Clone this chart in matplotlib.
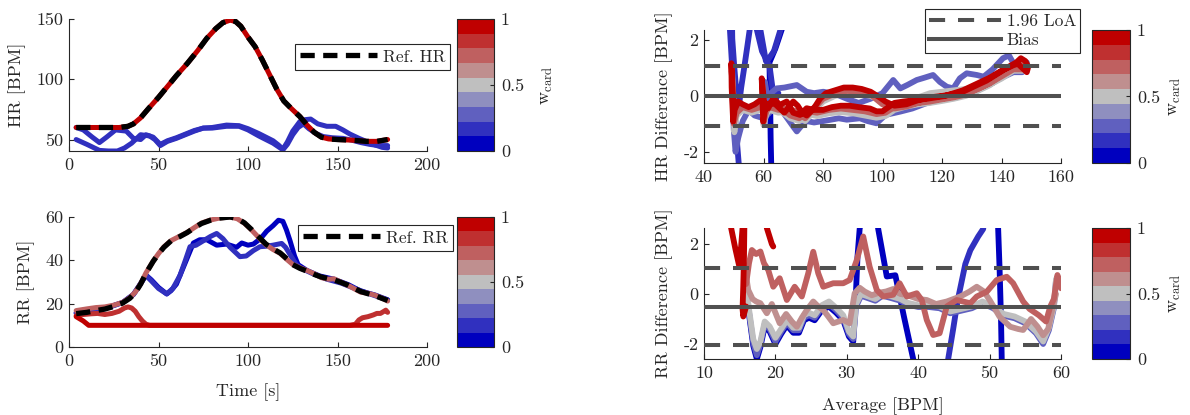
import matplotlib
matplotlib.use("Agg")
import matplotlib.pyplot as plt
from matplotlib.colors import ListedColormap, Normalize
from matplotlib.cm import ScalarMappable
from matplotlib.lines import Line2D

plt.rcParams.update({
    "font.family": "serif",
    "font.serif": ["cmr10"],
    "mathtext.fontset": "cm",
    "axes.formatter.use_mathtext": True,
    "axes.unicode_minus": False,
})

FIG_W, FIG_H = 1190, 415
INK = "#262626"
GUIDE = "#505050"
FS = 13

# discrete colour scale for the cardiac weight w_card
WCARD_COLORS = ["#0000BF", "#3030BF", "#6060BF", "#8F8FBF", "#BFBFBF",
                "#BF8F8F", "#BF6060", "#BF3030", "#BF0000"]
WCARD_TICKS = [0, 0.5, 1]
WCARD_TICK_LABELS = ["0", "0.5", "1"]

# ---------------- heart rate over time ----------------
hr_time_ref = [4, 10, 20, 28, 33, 36, 40, 44, 50, 55, 60, 66, 72, 77, 82, 86, 90, 93,
               96, 100, 104, 108, 112, 116, 120, 124, 129, 133, 137, 141, 145, 150,
               158, 166, 172, 178]
hr_ref = [60, 60, 60, 60, 61, 63, 68, 75, 85, 94, 103, 113, 124, 134, 142, 147, 149, 148,
          144, 135, 127, 116, 104, 92, 82, 76, 69, 62, 56, 52, 50.5, 50,
          49.5, 48.5, 48.5, 50]

hr_time_w100 = [4, 10, 20, 28, 33, 36, 40, 44, 50, 55, 60, 66, 72, 77, 82, 86, 90, 93,
                96, 100, 104, 108, 112, 116, 120, 124, 129, 133, 137, 141, 145, 150,
                158, 166, 172, 178]
hr_est_w100 = [60, 60, 60, 60, 61, 63, 68, 75, 85, 94, 103, 113, 124, 134, 142, 147, 149, 148,
               144, 135, 127, 116, 104, 92, 82, 76, 69, 62, 56, 52, 50.5, 50,
               49.5, 48.5, 48.5, 50]

hr_time_w12 = [4, 10, 17, 22, 27, 31, 35, 40, 45, 48, 51, 55, 60, 65, 70, 75, 80, 88, 95, 100,
               106, 110, 114, 117, 119.5, 122, 125, 129, 132, 135, 139, 144, 149, 153, 157,
               162, 166, 171, 175, 178]
hr_est_w12 = [50, 46, 41, 40.5, 40.5, 43, 47, 54, 53, 50, 45, 48.5, 51, 54, 57, 59.5, 60, 62,
              61.5, 59, 55, 52, 49, 45.5, 42, 48, 57, 65, 66.5, 67, 63, 61, 61, 58, 54.5,
              51, 48.5, 45.5, 43.5, 43]

hr_time_w18 = [4, 8, 13, 17, 21, 26, 32, 36, 40, 43, 47, 51, 55, 60, 65, 70, 75, 80, 88, 95,
               100, 106, 110, 114, 117, 119.5, 122, 125, 128, 131, 134, 138, 142, 147, 153,
               158, 163, 168, 173, 178]
hr_est_w18 = [60, 58, 52, 47.5, 52, 58, 57, 51, 50, 54, 52, 46, 49, 51.5, 54.5, 57.5, 59.5,
              59.5, 61, 61, 58, 53, 50, 47, 44, 41.5, 46, 54, 60, 63, 59, 55, 52.5, 51.5,
              51, 49.5, 47.5, 46, 45, 45]

# ---------------- respiration rate over time ----------------
rr_time_ref = [4, 10, 15, 20, 25, 30, 34, 37, 40, 43, 47, 50, 53, 57, 62, 66, 70, 74, 79, 84,
               90, 94, 98, 102, 106, 110, 114, 118, 122, 125, 129, 133, 137, 141, 145, 148,
               152, 156, 160, 163, 167, 171, 175, 178]
rr_ref = [15.4, 16, 16.8, 17.5, 18.7, 20.3, 22.5, 25, 29, 34, 39.5, 43, 46, 49, 51, 52.8,
          55, 57, 58.5, 59.5, 60, 59.3, 57.3, 54.2, 50.8, 47.5, 45.3, 43.4, 40.5, 38,
          36.3, 35, 33.5, 32.3, 31.5, 31, 29.8, 28.5, 26.8, 25.6, 24.6, 23.7, 22.4, 21.5]

rr_time_w05 = [4, 10, 20, 30, 36, 40, 43, 46, 50, 54.6, 57, 60, 63, 66, 69.5, 73, 77, 82.5,
               88, 93.6, 96.5, 100, 103, 107, 110.5, 114, 117, 119.5, 121.5, 123.5, 126,
               128, 133, 140, 148, 156, 163, 171, 178]
rr_est_w05 = [15.8, 16.4, 17.8, 20.6, 24.3, 29.3, 33.2, 31, 27.5, 24.5, 26, 29, 35, 41, 48,
              49.5, 49.5, 47, 47.5, 46, 48, 47, 47.5, 50, 53.5, 56, 58.5, 58, 54, 49, 42,
              38, 35.3, 32.8, 31.3, 28.8, 25.8, 24.0, 21.8]

rr_time_w15 = [4, 10, 20, 30, 36, 40, 43, 46, 50, 54.6, 58, 62, 65, 67.6, 71, 75, 79, 82.5,
               86, 90, 95.5, 99, 103, 106.7, 110, 114, 118.8, 121, 124, 127, 130, 136, 144,
               152, 160, 168, 178]
rr_est_w15 = [15.6, 16.2, 17.7, 20.5, 24.2, 29.2, 33, 30.5, 27, 24.5, 27, 33, 40, 46.3, 47,
              49, 51, 52.4, 50, 46, 41.7, 42, 44.5, 46.3, 46.5, 47, 47.8, 46, 42, 38, 36.2,
              33.9, 31.3, 29.5, 26.9, 24.5, 21.7]

rr_time_w70 = [4, 10, 15, 20, 25, 30, 34, 37, 40, 43, 47, 50, 53, 57, 62, 66, 70, 74, 79, 84,
               90, 94, 98, 102, 106, 110, 114, 118, 122, 125, 129, 133, 137, 141, 145, 148,
               152, 156, 160, 163, 167, 171, 175, 178]
rr_est_w70 = [16.8, 17.6, 18.2, 18.5, 19.3, 20.6, 22.8, 25.3, 29.2, 34.2, 39.6, 43.1, 46.2,
              49.1, 51.2, 52.9, 55.1, 57.2, 58.6, 59.5, 60.0, 59.2, 57.1, 54.0, 50.5, 47.2,
              45.0, 43.2, 40.2, 38.1, 36.6, 35.3, 33.8, 32.0, 31.3, 31.5, 29.9, 28.4, 26.6,
              25.3, 24.8, 23.9, 22.5, 21.2]

rr_time_w85 = [4, 8, 12, 16, 20, 24, 28, 31, 33, 35, 37, 39, 41, 43, 45, 100, 157, 160, 162,
               164, 167, 170, 172, 174, 176, 177, 178]
rr_est_w85 = [14.5, 15.0, 15.3, 15.5, 15.0, 15.5, 16.5, 18.0, 18.5, 18.0, 16.5, 14.0, 12.0,
              10.5, 10.0, 10.0, 10.0, 10.5, 12.5, 13.5, 14.0, 14.8, 15.5, 15.5, 16.5, 17.0, 16.0]

rr_time_w100 = [4, 8, 11, 178]
rr_est_w100 = [14, 12, 10, 10]

# ---------------- Bland-Altman, heart rate ----------------
hr_bias = 0.0
hr_loa_low, hr_loa_high = -1.07, 1.07

hr_ba_avg_w05 = [66.6, 66.2, 64.0, 62.0, 62.2, 62.4, 62.6, 62.7]
hr_ba_diff_w05 = [3.5, 2.4, 1.7, 1.2, 0.0, -1.5, -2.45, -3.5]

hr_ba_avg_w15 = [57.5, 57.7, 59.5, 61.2, 63.5, 65.8, 66.2]
hr_ba_diff_w15 = [3.5, 2.4, 1.6, 1.25, 1.6, 2.4, 3.5]

hr_ba_avg_w18 = [48.3, 48.7, 49.6, 50.4, 51.2, 51.7, 52.0]
hr_ba_diff_w18 = [3.5, 2.4, 0.8, -0.6, -1.8, -2.45, -3.5]

hr_ba_avg_w20 = [49.3, 49.5, 50.2, 51.0, 51.7, 52.5, 53.5, 54.6, 55.4, 55.7]
hr_ba_diff_w20 = [3.5, 2.05, 1.0, 0.0, -0.4, 0.3, 1.0, 1.8, 2.4, 3.5]

hr_ba_avg_w21 = [58.6, 58.9, 60.8, 62.0, 63.0, 63.8, 65.0]
hr_ba_diff_w21 = [3.5, 2.4, 1.25, 1.1, 0.3, -0.2, 0.1]

hr_ba_avg_w30 = [60.0, 60.5, 61.5, 62.5, 64.4, 67.0, 71.2, 74.5, 77.0, 80.1, 84.6, 88.0, 92.0,
                 96.0, 100.0, 103.6, 106.0, 108.5, 111.5, 114.0, 117.0, 119.3, 121.6, 123.8,
                 126.0, 128.3, 131.7, 134.0, 137.0, 140.5, 142.5, 145.0, 147.0, 148.5, 147.0,
                 144.0, 140.0, 135.0, 130.0, 125.0, 120.0, 115.0, 110.0, 106.0, 101.0, 98.0,
                 95.0, 92.4, 88.0, 85.3, 80.0, 77.0, 74.5, 72.5, 71.2, 70.0, 68.0, 66.0, 64.0,
                 62.0, 60.0, 57.0, 55.0, 53.0, 51.5, 50.6, 50.0, 49.6, 49.4, 50.0]
hr_ba_diff_w30 = [-0.6, 0.5, -0.2, 0.1, 0.27, 0.3, 0.39, 0.15, 0.1, 0.15, 0.05, -0.1, -0.25,
                  -0.1, 0.1, 0.57, 0.27, 0.4, 0.57, 0.65, 0.75, 0.5, 0.33, 0.27, 0.63, 0.81,
                  0.75, 0.69, 0.95, 1.35, 1.45, 0.99, 1.0, 1.2, 0.85, 0.85, 0.65, 0.35, 0.1,
                  -0.05, -0.15, -0.25, -0.45, -0.56, -0.68, -0.98, -0.9, -0.8, -0.85, -0.8,
                  -0.9, -0.95, -0.9, -1.1, -1.27, -1.1, -0.8, -0.5, -0.3, -0.6, -0.8, -0.7,
                  -0.5, -0.9, -1.5, -2.0, -1.2, 0.2, 1.0, -0.3]

hr_ba_avg_w50 = [60.1, 59.5, 60.0, 61.0, 63.0, 66.0, 69.0, 72.0, 75.0, 78.0, 82.0, 86.0, 90.0,
                 94.0, 98.0, 101.0, 104.0, 108.0, 112.0, 116.0, 120.0, 124.0, 128.0, 132.0,
                 136.0, 140.0, 143.0, 146.0, 148.5, 147.0, 144.0, 140.0, 136.0, 132.0, 128.0,
                 124.0, 120.0, 116.0, 112.0, 108.0, 104.0, 100.0, 96.0, 92.0, 88.0, 84.0,
                 80.0, 77.0, 74.0, 71.0, 68.0, 65.0, 62.0, 59.0, 56.0, 53.0, 51.0, 50.2,
                 49.6, 49.3, 50.0]
hr_ba_diff_w50 = [-0.5, 0.3, -1.05, -0.65, -0.3, -0.55, -0.8, -0.9, -0.65, -0.72, -0.62,
                  -0.58, -0.62, -0.7, -0.78, -0.72, -0.5, -0.38, -0.3, -0.25, -0.18, -0.1,
                  0.0, 0.18, 0.38, 0.68, 0.9, 1.1, 0.95, 0.9, 0.9, 0.62, 0.4, 0.3, 0.25, 0.2,
                  0.15, 0.1, -0.05, -0.25, -0.4, -0.2, 0.0, 0.08, 0.1, 0.0, -0.2, -0.55, -0.9,
                  -0.65, -0.55, -0.6, -0.5, -0.5, -0.6, -0.5, -0.7, -1.3, 0.1, 0.9, -0.35]

hr_ba_avg_w70 = [60.2, 59.6, 60.0, 61.0, 63.0, 66.0, 69.0, 72.0, 75.0, 78.0, 82.0, 86.0, 90.0,
                 94.0, 98.0, 101.0, 104.0, 108.0, 112.0, 116.0, 120.0, 124.0, 128.0, 132.0,
                 136.0, 140.0, 143.0, 146.0, 148.5, 147.0, 144.0, 140.0, 136.0, 132.0, 128.0,
                 124.0, 120.0, 116.0, 112.0, 108.0, 104.0, 100.0, 96.0, 92.0, 88.0, 84.0,
                 80.0, 77.0, 74.0, 71.0, 68.0, 65.0, 62.0, 59.0, 56.0, 53.0, 51.0, 50.0,
                 49.5, 49.4, 50.0]
hr_ba_diff_w70 = [-0.4, 0.4, -0.95, -0.55, -0.2, -0.45, -0.7, -0.8, -0.55, -0.6, -0.5, -0.45,
                  -0.5, -0.55, -0.65, -0.6, -0.4, -0.3, -0.25, -0.2, -0.12, -0.05, 0.05, 0.25,
                  0.45, 0.75, 0.95, 1.15, 1.0, 0.95, 0.95, 0.7, 0.45, 0.25, 0.1, -0.02, -0.1,
                  -0.15, -0.25, -0.38, -0.45, -0.3, 0.05, 0.15, 0.18, 0.08, -0.1, -0.45, -0.8,
                  -0.55, -0.45, -0.5, -0.4, -0.4, -0.5, -0.4, -0.6, -1.0, 0.2, 1.0, -0.3]

hr_ba_avg_w100 = [60.3, 59.4, 59.9, 60.6, 61.6, 63.3, 65.5, 67.8, 70, 72.3, 74.5, 77, 80, 83,
                  86, 89, 92, 95.8, 98, 100, 102, 104, 107, 111, 115, 118, 121, 124, 127,
                  130, 133, 136, 139.5, 142.5, 145, 146.5, 148, 149, 148.5, 147, 145.5, 144,
                  141, 138, 135, 132, 129, 126, 123, 120, 116, 112, 108, 104, 101, 99, 96,
                  93, 90, 87, 84, 81, 79, 77.5, 76, 74.5, 73, 71.5, 70, 68.5, 67, 65.5, 64,
                  62.5, 61, 59, 57, 55, 53, 51.5, 50.3, 49.8, 49.3, 49.2, 49.6, 50, 50.6]
hr_ba_diff_w100 = [-0.35, 0.63, -0.92, -0.45, -0.44, -0.08, -0.32, -0.2, -0.6, -0.68, -0.44,
                   -0.5, -0.5, -0.4, -0.35, -0.35, -0.4, -0.45, -0.55, -0.55, -0.4, -0.25,
                   -0.2, -0.15, -0.1, -0.05, 0.0, 0.1, 0.2, 0.35, 0.5, 0.65, 0.87, 1.05, 1.2,
                   1.35, 1.25, 1.05, 0.85, 1.0, 1.15, 1.1, 0.95, 0.75, 0.55, 0.4, 0.25, 0.1,
                   0.05, 0.0, -0.05, -0.15, -0.3, -0.35, -0.2, -0.05, 0.15, 0.25, 0.3, 0.3,
                   0.2, 0.1, -0.1, -0.35, -0.55, -0.7, -0.6, -0.35, -0.2, -0.4, -0.6, -0.45,
                   -0.3, -0.25, -0.3, -0.15, -0.3, -0.4, -0.3, -0.2, -0.5, -0.92, 0.3, 1.17,
                   0.2, -0.3, -0.35]

# ---------------- Bland-Altman, respiration rate ----------------
rr_bias = -0.5
rr_loa_low, rr_loa_high = -2.04, 1.04

rr_ba_avg_w05 = [15.8, 16.3, 16.9, 17.4, 17.9, 18.5, 19.2, 20.0, 20.8, 21.6, 22.5, 23.3, 24.0,
                 24.7, 25.5, 26.5, 27.5, 28.5, 29.5, 30.3, 30.9, 31.2, 31.5, 31.8, 32.3,
                 33.0, 34.0, 34.4, 35.6, 36.8, 38.0, 39.3, 39.6]
rr_ba_diff_w05 = [0.45, -0.8, -2.07, -2.6, -2.12, -1.3, -1.5, -2.0, -1.6, -1.25, -1.55, -1.55,
                  -1.05, -0.95, -1.05, -0.65, -0.5, -0.75, -1.05, -1.7, -1.9, -0.5, 1.5, 2.6,
                  3.5, 4.5, 3.5, 2.6, 0.7, 0.75, -0.9, -2.6, -3.5]

rr_ba_avg_w03 = [51.1, 51.2, 51.4, 51.6, 51.7, 51.8]
rr_ba_diff_w03 = [3.5, 2.6, 1.0, -1.0, -2.6, -3.5]

rr_ba_avg_w15 = [43.9, 44.2, 44.9, 45.5, 46.6, 47.3, 48.4, 49.1, 49.4]
rr_ba_diff_w15 = [-3.5, -2.6, -1.4, -0.3, 1.2, 1.75, 2.3, 2.6, 3.5]

rr_ba_avg_w30 = [15.8, 16.3, 16.9, 17.4, 17.9, 18.5, 19.2, 20.0, 20.8, 21.6, 22.5, 23.3, 24.0,
                 24.7, 25.5, 26.5, 27.5, 28.5, 29.5, 30.3, 30.9, 31.3, 32.0, 33.0, 34.0,
                 35.0, 36.3, 37.5, 38.5, 40.0, 41.5, 43.0, 44.5, 46.0, 47.5, 49.0, 50.5,
                 52.0, 53.5, 55.0, 56.5, 57.5, 58.3, 59.0, 59.3]
rr_ba_diff_w30 = [0.5, -0.72, -1.95, -2.45, -2.0, -1.2, -1.4, -1.9, -1.5, -1.15, -1.45, -1.45,
                  -0.95, -0.85, -0.95, -0.55, -0.4, -0.65, -0.95, -1.6, -1.8, -0.5, -0.07,
                  -0.17, -0.27, -0.07, -0.17, -0.27, -0.42, -0.52, -0.52, -0.57, -0.77, -0.67,
                  -0.57, -0.37, -0.57, -0.87, -0.97, -1.17, -1.57, -2.0, -1.45, -0.57, 0.55]

rr_ba_avg_w50 = [15.8, 16.3, 16.9, 17.4, 17.9, 18.5, 19.2, 20.0, 20.8, 21.6, 22.5, 23.3, 24.0,
                 24.7, 25.5, 26.5, 27.5, 28.5, 29.5, 30.3, 30.9, 31.3, 32.0, 33.0, 34.0,
                 35.0, 36.3, 37.5, 38.5, 40.0, 41.5, 43.0, 44.5, 46.0, 47.5, 49.0, 50.5,
                 52.0, 53.5, 55.0, 56.5, 57.5, 58.3, 59.0, 59.3]
rr_ba_diff_w50 = [0.6, -0.6, -1.8, -2.2, -1.9, -1.1, -1.3, -1.75, -1.4, -1.05, -1.35, -1.35,
                  -0.85, -0.75, -0.85, -0.45, -0.3, -0.55, -0.85, -1.5, -1.7, -0.4, 0.0, -0.1,
                  -0.2, 0.0, -0.1, -0.2, -0.35, -0.45, -0.45, -0.5, -0.7, -0.6, -0.5, -0.3,
                  -0.5, -0.8, -0.9, -1.1, -1.5, -1.9, -1.35, -0.5, 0.6]

rr_ba_avg_w60 = [15.8, 16.2, 16.8, 17.3, 17.9, 18.8, 19.5, 20.6, 21.5, 22.3, 23.0, 23.7, 24.4,
                 25.3, 26.0, 26.7, 27.4, 28.1, 29.5, 30.4, 31.1, 31.8, 32.5, 33.5, 34.5,
                 35.5, 36.5, 37.5, 38.5, 40.0, 41.2, 42.5, 44.0, 45.9, 47.2, 48.2, 49.2,
                 50.0, 51.4, 52.9, 54.0, 54.7, 55.8, 56.7, 57.5, 58.2, 58.8, 59.3]
rr_ba_diff_w60 = [0.9, 0.16, -0.2, -0.3, -0.37, -0.77, -0.4, -1.17, -0.8, -1.1, -1.31, -0.95,
                  -0.64, -0.3, -0.5, -0.64, -0.9, -1.17, -1.04, -1.17, 0.03, 0.25, 0.1, -0.05,
                  0.05, 0.1, 0.2, 0.0, -0.05, -0.2, -0.24, -0.4, -0.3, -0.1, 0.1, 0.29, 0.1,
                  -0.24, -0.91, -1.31, -1.4, -1.44, -1.0, -1.3, -1.65, -1.4, -0.6, 0.0]

rr_ba_avg_w70 = [15.9, 16.3, 16.7, 17.3, 17.9, 18.4, 19.0, 19.7, 20.6, 21.6, 22.7, 23.7, 24.6,
                 25.3, 26.0, 26.7, 28.1, 29.5, 30.4, 31.4, 32.3, 33.2, 34.2, 35.1, 36.5,
                 37.4, 38.4, 39.8, 40.5, 41.2, 42.1, 43.0, 44.0, 45.4, 47.3, 48.2, 49.6,
                 51.0, 52.4, 53.3, 54.7, 55.6, 56.9, 57.9, 58.5, 59.0, 59.5, 60.0]
rr_ba_diff_w70 = [0.4, 1.23, 1.76, 1.6, 1.7, 1.23, 0.96, 0.29, 0.63, -0.24, 0.29, -0.1, 0.83,
                  1.69, 0.83, 0.29, 0.43, 0.43, 0.56, 1.36, 2.3, 1.09, 0.16, -0.1, -0.03,
                  0.43, -0.1, 0.03, -0.24, -1.04, -1.64, -1.57, -0.5, -0.24, -0.37, -0.1,
                  0.09, 0.56, 0.69, 0.43, -0.3, -0.6, -0.85, -1.1, -0.5, -0.2, 0.76, 0.23]

rr_ba_avg_w95 = [15.6, 15.65, 15.6, 15.5, 15.4, 15.5, 15.9]
rr_ba_diff_w95 = [3.5, 2.64, 1.5, 0.3, -0.6, -0.9, -0.5]

rr_ba_avg_w100a = [13.7, 13.8, 14.4, 14.9, 15.2, 15.4, 15.5]
rr_ba_diff_w100a = [3.5, 2.64, 1.8, 1.16, 1.9, 2.64, 3.5]

rr_ba_avg_w100b = [18.6, 18.8, 19.5, 19.7]
rr_ba_diff_w100b = [3.5, 2.64, 2.0, 1.9]

# series grouped per panel: (w_card, x values, y values), drawn in this order
HR_SERIES = [(0.12, hr_time_w12, hr_est_w12), (0.18, hr_time_w18, hr_est_w18),
             (1.0, hr_time_w100, hr_est_w100)]
RR_SERIES = [(0.05, rr_time_w05, rr_est_w05), (0.15, rr_time_w15, rr_est_w15),
             (0.70, rr_time_w70, rr_est_w70), (0.85, rr_time_w85, rr_est_w85),
             (1.0, rr_time_w100, rr_est_w100)]
HR_BA_SERIES = [(0.05, hr_ba_avg_w05, hr_ba_diff_w05), (0.15, hr_ba_avg_w15, hr_ba_diff_w15),
                (0.18, hr_ba_avg_w18, hr_ba_diff_w18), (0.20, hr_ba_avg_w20, hr_ba_diff_w20),
                (0.21, hr_ba_avg_w21, hr_ba_diff_w21), (0.30, hr_ba_avg_w30, hr_ba_diff_w30),
                (0.50, hr_ba_avg_w50, hr_ba_diff_w50), (0.70, hr_ba_avg_w70, hr_ba_diff_w70),
                (1.0, hr_ba_avg_w100, hr_ba_diff_w100)]
RR_BA_SERIES = [(0.05, rr_ba_avg_w05, rr_ba_diff_w05), (0.03, rr_ba_avg_w03, rr_ba_diff_w03),
                (0.15, rr_ba_avg_w15, rr_ba_diff_w15), (0.30, rr_ba_avg_w30, rr_ba_diff_w30),
                (0.50, rr_ba_avg_w50, rr_ba_diff_w50), (0.60, rr_ba_avg_w60, rr_ba_diff_w60),
                (0.70, rr_ba_avg_w70, rr_ba_diff_w70), (0.95, rr_ba_avg_w95, rr_ba_diff_w95),
                (1.0, rr_ba_avg_w100a, rr_ba_diff_w100a), (1.0, rr_ba_avg_w100b, rr_ba_diff_w100b)]

cmap = ListedColormap(WCARD_COLORS)
norm = Normalize(0, 1)


def box(x0, y0, x1, y1):
    return [x0 / FIG_W, 1 - y1 / FIG_H, (x1 - x0) / FIG_W, (y1 - y0) / FIG_H]


def style_axes(ax, xlim, ylim, xticks, yticks, xlabels, ylabels):
    ax.set_xlim(*xlim)
    ax.set_ylim(*ylim)
    ax.set_xticks(xticks)
    ax.set_xticklabels(xlabels)
    ax.set_yticks(yticks)
    ax.set_yticklabels(ylabels)
    for side in ("top", "right"):
        ax.spines[side].set_visible(False)
    for side in ("left", "bottom"):
        ax.spines[side].set_color(INK)
        ax.spines[side].set_linewidth(0.8)
    ax.tick_params(axis="both", direction="in", length=3.5, width=0.8, colors=INK,
                   labelsize=FS)
    ax.tick_params(axis="x", pad=5)
    ax.tick_params(axis="y", pad=4)


def add_colorbar(cax, label_x=None):
    cb = fig.colorbar(ScalarMappable(norm=norm, cmap=cmap), cax=cax, ticks=WCARD_TICKS)
    cb.ax.set_yticklabels(WCARD_TICK_LABELS)
    cb.outline.set_edgecolor(INK)
    cb.outline.set_linewidth(0.8)
    cb.ax.tick_params(direction="in", length=3, width=0.8, colors=INK, labelsize=FS, pad=5)
    if label_x is not None:
        cb.set_label(r"$\mathrm{w}_{\mathrm{card}}$", fontsize=FS, color=INK)
        cb.ax.yaxis.set_label_coords(label_x, 0.5)
    return cb


def draw_series(ax, series, lw):
    for w, xs, ys in series:
        ax.plot(xs, ys, color=cmap(norm(w)), lw=lw, solid_joinstyle="round",
                solid_capstyle="round", zorder=2)


def add_guides(ax, bias, lo, hi, xlim):
    kw = dict(color=GUIDE, lw=2.9, zorder=4)
    ax.plot(xlim, [hi, hi], dashes=(4.0, 3.2), dash_capstyle="butt", **kw)
    ax.plot(xlim, [lo, lo], dashes=(4.0, 3.2), dash_capstyle="butt", **kw)
    ax.plot(xlim, [bias, bias], solid_capstyle="butt", **kw)


def framed_legend(ax, handles, labels, corner, **kw):
    leg = ax.legend(handles, labels, loc="upper left",
                    bbox_to_anchor=(corner[0] / FIG_W, 1 - corner[1] / FIG_H),
                    bbox_transform=fig.transFigure, frameon=True, fancybox=False,
                    framealpha=1, edgecolor=INK, fontsize=12.5, borderaxespad=0, **kw)
    leg.get_frame().set_linewidth(0.8)
    for t in leg.get_texts():
        t.set_color(INK)
    leg.set_zorder(10)
    return leg


fig = plt.figure(figsize=(FIG_W / 100, FIG_H / 100), dpi=100)

# ---- HR over time ----
ax_hr = fig.add_axes(box(69, 19, 427, 151))
draw_series(ax_hr, HR_SERIES, 3.6)
ax_hr.plot(hr_time_ref, hr_ref, color="black", lw=3.8, dashes=(2.7, 1.6),
           dash_capstyle="butt", zorder=3)
style_axes(ax_hr, (0, 200), (40.5, 150), [0, 50, 100, 150, 200], [50, 100, 150],
           ["0", "50", "100", "150", "200"], ["50", "100", "150"])
ax_hr.set_ylabel("HR [BPM]", fontsize=FS, color=INK)
ax_hr.yaxis.set_label_coords(-0.12, 0.5)
framed_legend(ax_hr, [Line2D([], [], color="black", lw=3.8, dashes=(2.7, 1.6))],
              ["Ref. HR"], (295, 44), handlelength=4.4, handletextpad=0.35, borderpad=0.3)
add_colorbar(fig.add_axes(box(457, 19, 494, 151)), label_x=2.24)

# ---- RR over time ----
ax_rr = fig.add_axes(box(69, 217, 427, 347))
draw_series(ax_rr, RR_SERIES, 3.6)
ax_rr.plot(rr_time_ref, rr_ref, color="black", lw=3.8, dashes=(2.7, 1.6),
           dash_capstyle="butt", zorder=3)
style_axes(ax_rr, (0, 200), (0, 60), [0, 50, 100, 150, 200], [0, 20, 40, 60],
           ["0", "50", "100", "150", "200"], ["0", "20", "40", "60"])
ax_rr.set_ylabel("RR [BPM]", fontsize=FS, color=INK)
ax_rr.yaxis.set_label_coords(-0.095, 0.5)
ax_rr.set_xlabel("Time [s]", fontsize=FS, color=INK)
ax_rr.xaxis.set_label_coords(0.5, -0.277)
framed_legend(ax_rr, [Line2D([], [], color="black", lw=3.8, dashes=(2.7, 1.6))],
              ["Ref. RR"], (298, 225), handlelength=4.4, handletextpad=0.35, borderpad=0.3)
add_colorbar(fig.add_axes(box(457, 217, 494, 347)))

# ---- Bland-Altman HR ----
ax_hba = fig.add_axes(box(704, 30, 1061, 163))
draw_series(ax_hba, HR_BA_SERIES, 4.2)
add_guides(ax_hba, hr_bias, hr_loa_low, hr_loa_high, (40, 160))
style_axes(ax_hba, (40, 160), (-2.4, 2.36), [40, 60, 80, 100, 120, 140, 160], [-2, 0, 2],
           ["40", "60", "80", "100", "120", "140", "160"], ["-2", "0", "2"])
ax_hba.set_ylabel("HR Difference [BPM]", fontsize=FS, color=INK)
ax_hba.yaxis.set_label_coords(-0.087, 0.5)
framed_legend(ax_hba,
              [Line2D([], [], color=GUIDE, lw=2.9, dashes=(4.0, 3.2)),
               Line2D([], [], color=GUIDE, lw=2.9)],
              ["1.96 LoA", "Bias"], (925, 9), handlelength=4.1, handletextpad=0.35,
              borderpad=0.25, labelspacing=0.25)
add_colorbar(fig.add_axes(box(1092, 30, 1130, 163)), label_x=1.98)

# ---- Bland-Altman RR ----
ax_rba = fig.add_axes(box(704, 228, 1061, 359))
draw_series(ax_rba, RR_BA_SERIES, 4.2)
add_guides(ax_rba, rr_bias, rr_loa_low, rr_loa_high, (10, 60))
style_axes(ax_rba, (10, 60), (-2.6, 2.64), [10, 20, 30, 40, 50, 60], [-2, 0, 2],
           ["10", "20", "30", "40", "50", "60"], ["-2", "0", "2"])
ax_rba.set_ylabel("RR Difference [BPM]", fontsize=FS, color=INK)
ax_rba.yaxis.set_label_coords(-0.087, 0.5)
ax_rba.set_xlabel("Average [BPM]", fontsize=FS, color=INK)
ax_rba.xaxis.set_label_coords(0.5, -0.29)
add_colorbar(fig.add_axes(box(1092, 228, 1130, 359)), label_x=1.98)

fig.savefig("out.png", dpi=100)
